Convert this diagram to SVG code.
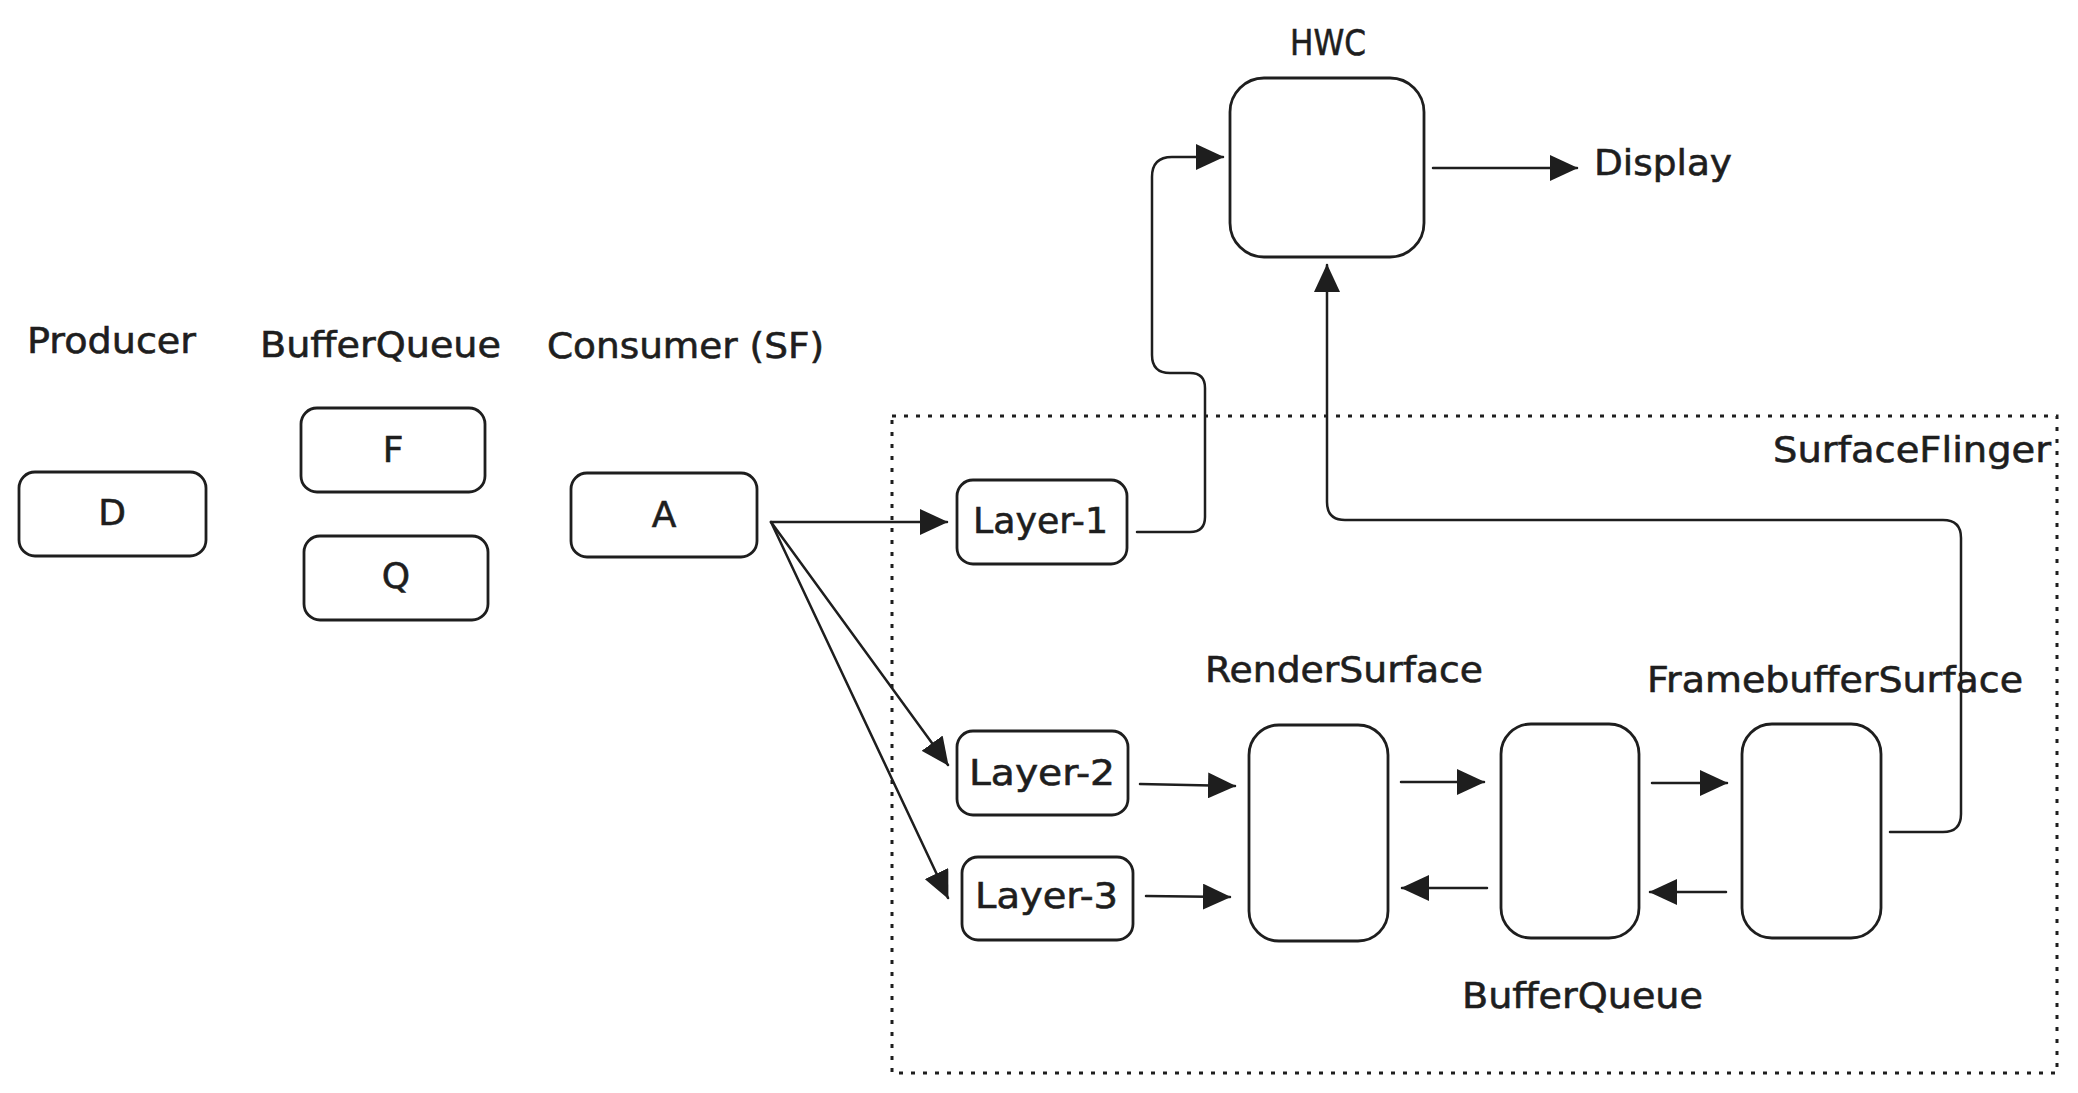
<svg xmlns="http://www.w3.org/2000/svg" width="2078" height="1093" viewBox="0 0 2078 1093">
<style>
.bg{fill:#ffffff}
.box{fill:none;stroke:#1e1e1e;stroke-width:2.8}
.frame{fill:none;stroke:#1e1e1e;stroke-width:3;stroke-dasharray:4 8}
.con{fill:none;stroke:#1e1e1e;stroke-width:2.5;stroke-linecap:round;stroke-linejoin:round}
text{font-family:"DejaVu Sans","Liberation Sans",sans-serif;font-size:36px;fill:#1e1e1e;stroke:#1e1e1e;stroke-width:0.6}
.mid{text-anchor:middle}
</style>
<defs>
<marker id="ah" viewBox="0 0 28 26" markerWidth="28" markerHeight="26" refX="27" refY="13" orient="auto" markerUnits="userSpaceOnUse">
<path d="M0,0 L28,13 L0,26 Z" fill="#1e1e1e"/>
</marker>
</defs>
<rect class="bg" x="0" y="0" width="2078" height="1093"/>

<g id="labels">
<text x="27" y="353" textLength="169" lengthAdjust="spacingAndGlyphs">Producer</text>
<text x="260" y="357" textLength="241" lengthAdjust="spacingAndGlyphs">BufferQueue</text>
<text x="547" y="358" textLength="277" lengthAdjust="spacingAndGlyphs">Consumer (SF)</text>
<text x="1290" y="55" textLength="76" lengthAdjust="spacingAndGlyphs">HWC</text>
<text x="1594" y="175" textLength="138" lengthAdjust="spacingAndGlyphs">Display</text>
<text x="1205" y="682" textLength="278" lengthAdjust="spacingAndGlyphs">RenderSurface</text>
<text x="1647" y="692" textLength="376" lengthAdjust="spacingAndGlyphs">FramebufferSurface</text>
<text x="1462" y="1008" textLength="241" lengthAdjust="spacingAndGlyphs">BufferQueue</text>
</g>

<g id="surfaceflinger">
<rect class="frame" x="892" y="416" width="1165" height="657"/>
<text x="1773" y="462" textLength="278" lengthAdjust="spacingAndGlyphs">SurfaceFlinger</text>
</g>

<g id="node-D">
<rect class="box" x="19" y="472" width="187" height="84" rx="16"/>
<text class="mid" x="112" y="525">D</text>
</g>
<g id="node-F">
<rect class="box" x="301" y="408" width="184" height="84" rx="16"/>
<text class="mid" x="393" y="462">F</text>
</g>
<g id="node-Q">
<rect class="box" x="304" y="536" width="184" height="84" rx="16"/>
<text class="mid" x="396" y="588">Q</text>
</g>
<g id="node-A">
<rect class="box" x="571" y="473" width="186" height="84" rx="16"/>
<text class="mid" x="664" y="527">A</text>
</g>
<g id="node-HWC">
<rect class="box" x="1230" y="78" width="194" height="179" rx="34"/>
</g>
<g id="node-layer1">
<rect class="box" x="957" y="480" width="170" height="84" rx="16"/>
<text x="973" y="533" textLength="135" lengthAdjust="spacingAndGlyphs">Layer-1</text>
</g>
<g id="node-layer2">
<rect class="box" x="957" y="731" width="171" height="84" rx="16"/>
<text x="969" y="785" textLength="146" lengthAdjust="spacingAndGlyphs">Layer-2</text>
</g>
<g id="node-layer3">
<rect class="box" x="962" y="857" width="171" height="83" rx="16"/>
<text x="975" y="908" textLength="143" lengthAdjust="spacingAndGlyphs">Layer-3</text>
</g>
<g id="node-rendersurface">
<rect class="box" x="1249" y="725" width="139" height="216" rx="30"/>
</g>
<g id="node-bufferqueue">
<rect class="box" x="1501" y="724" width="138" height="214" rx="30"/>
</g>
<g id="node-framebuffersurface">
<rect class="box" x="1742" y="724" width="139" height="214" rx="30"/>
</g>

<g id="connectors">
<path class="con" d="M771,522 L947,522" marker-end="url(#ah)"/>
<path class="con" d="M771,522 L948,765" marker-end="url(#ah)"/>
<path class="con" d="M771,522 L948,898" marker-end="url(#ah)"/>
<path class="con" d="M1137,532 H1190 Q1205,532 1205,517 V388 Q1205,373 1190,373 H1170 Q1152,373 1152,355 V177 Q1152,157 1172,157 H1223" marker-end="url(#ah)"/>
<path class="con" d="M1433,168 H1577" marker-end="url(#ah)"/>
<path class="con" d="M1140,784 L1235,786" marker-end="url(#ah)"/>
<path class="con" d="M1146,896 L1230,897" marker-end="url(#ah)"/>
<path class="con" d="M1401,782 H1484" marker-end="url(#ah)"/>
<path class="con" d="M1652,783 H1727" marker-end="url(#ah)"/>
<path class="con" d="M1487,888 H1402" marker-end="url(#ah)"/>
<path class="con" d="M1726,892 H1650" marker-end="url(#ah)"/>
<path class="con" d="M1890,832 H1943 Q1961,832 1961,814 V538 Q1961,520 1943,520 H1345 Q1327,520 1327,502 V265" marker-end="url(#ah)"/>
</g>
</svg>
